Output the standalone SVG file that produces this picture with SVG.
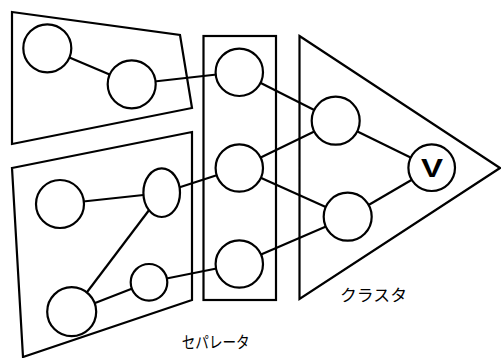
<svg xmlns="http://www.w3.org/2000/svg" width="501" height="358" viewBox="0 0 501 358">
<style>
.g{fill:none;stroke:#000;stroke-width:2.2;stroke-linejoin:miter}
.n{fill:#fff;stroke:#000;stroke-width:2.2}
.e{stroke:#000;stroke-width:2.2;fill:none}
.t{font-family:"Noto Sans CJK JP","Liberation Sans",sans-serif;font-size:16px;fill:#000}
</style>
<rect width="501" height="358" fill="#fff"/>
<g id="groups">
<polygon id="group-top" class="g" points="12,12 180,35 192,108 12,144"/>
<polygon id="group-bottom" class="g" points="12,168 192,132 192,300 23,357"/>
<rect id="separator" class="g" x="203.5" y="36" width="72.5" height="264"/>
<polygon id="cluster" class="g" points="299.5,36 500,168 299.5,299"/>
</g>
<g id="connectors">
<line class="e" x1="47" y1="48" x2="132" y2="84"/>
<line class="e" x1="132" y1="84" x2="239" y2="72"/>
<line class="e" x1="60" y1="204" x2="162" y2="193"/>
<line class="e" x1="162" y1="193" x2="72" y2="312"/>
<line class="e" x1="72" y1="312" x2="149" y2="282"/>
<line class="e" x1="149" y1="282" x2="239" y2="264"/>
<line class="e" x1="162" y1="193" x2="239" y2="168"/>
<line class="e" x1="239" y1="72" x2="336" y2="121"/>
<line class="e" x1="239" y1="168" x2="336" y2="121"/>
<line class="e" x1="239" y1="168" x2="348" y2="217"/>
<line class="e" x1="239" y1="264" x2="348" y2="217"/>
<line class="e" x1="336" y1="121" x2="432" y2="168"/>
<line class="e" x1="348" y1="217" x2="432" y2="168"/>
</g>
<g id="n1"><circle class="n" cx="47.3" cy="48.3" r="24"/></g>
<g id="n2"><circle class="n" cx="131.7" cy="84.3" r="24"/></g>
<g id="n3"><circle class="n" cx="60" cy="204" r="24"/></g>
<g id="n4"><ellipse class="n" cx="161.7" cy="192.7" rx="18.3" ry="24.3"/></g>
<g id="n5"><ellipse class="n" cx="149" cy="282.3" rx="18.3" ry="18.3"/></g>
<g id="n6"><circle class="n" cx="71.7" cy="311.7" r="24.5"/></g>
<g id="s1"><circle class="n" cx="239.3" cy="72.3" r="23.7"/></g>
<g id="s2"><circle class="n" cx="239.3" cy="168" r="23.7"/></g>
<g id="s3"><circle class="n" cx="239.3" cy="264" r="23.7"/></g>
<g id="c1"><circle class="n" cx="335.7" cy="120.7" r="24"/></g>
<g id="c2"><circle class="n" cx="347.7" cy="216.7" r="24"/></g>
<g id="v"><circle class="n" cx="431.7" cy="167.7" r="23.3"/>
<text x="432" y="177.3" text-anchor="middle" font-family="Liberation Sans, sans-serif" font-size="26" font-weight="bold" textLength="22" lengthAdjust="spacingAndGlyphs">V</text></g>
<g id="labels">
<text class="t" x="181.7" y="348" textLength="68" lengthAdjust="spacingAndGlyphs">セパレータ</text>
<text class="t" x="340" y="301" textLength="67" lengthAdjust="spacingAndGlyphs">クラスタ</text>
</g>
</svg>
